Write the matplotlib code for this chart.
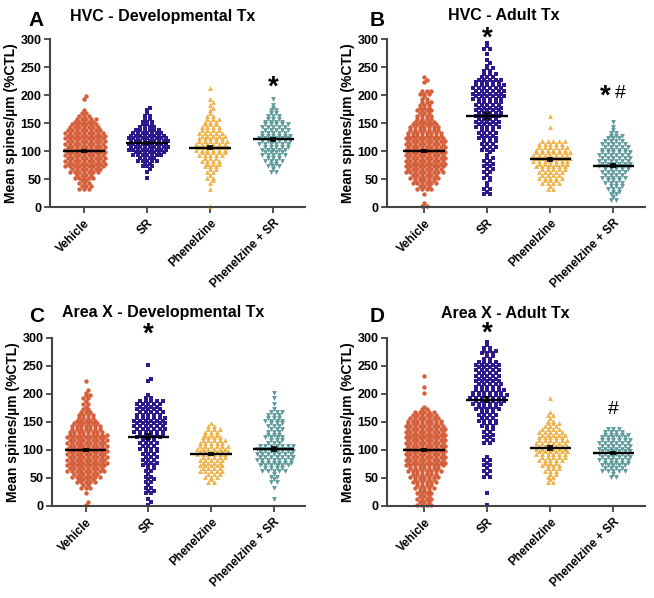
import numpy as np
import matplotlib
matplotlib.use("Agg")
import matplotlib.pyplot as plt

plt.rcParams["font.family"] = ["Liberation Sans", "DejaVu Sans"]
plt.rcParams["font.weight"] = "bold"
plt.rcParams["axes.labelweight"] = "bold"
plt.rcParams["axes.titleweight"] = "bold"

groups = ["Vehicle", "SR", "Phenelzine", "Phenelzine + SR"]
titles = ["HVC - Developmental Tx", "HVC - Adult Tx",
          "Area X - Developmental Tx", "Area X - Adult Tx"]
letters = ["A", "B", "C", "D"]


def bins(d):
    out = [0] * 30
    for k, v in d.items():
        out[k // 10] = v
    return out


counts_A = [
    bins({30: 6, 40: 5, 50: 9, 60: 14, 70: 18, 80: 18, 90: 18, 100: 18, 110: 18, 120: 18,
          130: 17, 140: 13, 150: 10, 160: 5, 170: 1, 190: 2}),
    bins({50: 1, 60: 2, 70: 5, 80: 9, 90: 14, 100: 18, 110: 18, 120: 17, 130: 13, 140: 7,
          150: 5, 160: 3, 170: 2}),
    bins({0: 1, 30: 1, 40: 2, 50: 3, 60: 4, 70: 6, 80: 7, 90: 10, 100: 12, 110: 12, 120: 10,
          130: 9, 140: 7, 150: 6, 160: 3, 170: 2, 180: 2, 190: 1, 210: 1}),
    bins({60: 3, 70: 5, 80: 7, 90: 9, 100: 10, 110: 12, 120: 12, 130: 10, 140: 10, 150: 7,
          160: 5, 170: 3, 180: 1, 190: 1}),
]
counts_B = [
    bins({0: 3, 20: 1, 30: 7, 40: 11, 50: 13, 60: 17, 70: 18, 80: 18, 90: 18, 100: 18,
          110: 18, 120: 17, 130: 15, 140: 13, 150: 9, 160: 7, 170: 7, 180: 6, 190: 3,
          200: 6, 220: 2, 230: 1}),
    bins({20: 3, 30: 3, 40: 2, 50: 3, 60: 4, 70: 4, 80: 4, 90: 2, 100: 6, 110: 6, 120: 7,
          130: 7, 140: 9, 150: 9, 160: 10, 170: 10, 180: 10, 190: 12, 200: 12, 210: 12,
          220: 10, 230: 6, 240: 4, 250: 2, 260: 1, 270: 1, 280: 3, 290: 1}),
    bins({30: 3, 40: 7, 50: 9, 60: 10, 70: 12, 80: 14, 90: 14, 100: 12, 110: 10, 140: 1,
          160: 1}),
    bins({10: 3, 20: 4, 30: 6, 40: 7, 50: 9, 60: 10, 70: 12, 80: 12, 90: 12, 100: 10,
          110: 9, 120: 6, 130: 3, 140: 1, 150: 1}),
]
counts_C = [
    bins({0: 2, 20: 1, 30: 5, 40: 9, 50: 13, 60: 17, 70: 18, 80: 18, 90: 18, 100: 18,
          110: 18, 120: 18, 130: 15, 140: 13, 150: 9, 160: 7, 170: 3, 180: 3, 190: 4,
          200: 2, 220: 1}),
    bins({0: 2, 10: 1, 20: 4, 30: 3, 40: 4, 50: 3, 60: 4, 70: 6, 80: 6, 90: 6, 100: 7,
          110: 7, 120: 10, 130: 12, 140: 12, 150: 12, 160: 10, 170: 9, 180: 10, 190: 3,
          220: 2, 250: 1}),
    bins({40: 3, 50: 6, 60: 9, 70: 9, 80: 10, 90: 12, 100: 12, 110: 10, 120: 7, 130: 6,
          140: 3}),
    bins({10: 1, 30: 1, 40: 3, 50: 3, 60: 9, 70: 12, 80: 14, 90: 14, 100: 14, 110: 6,
          120: 7, 130: 6, 140: 6, 150: 7, 160: 6, 170: 1, 180: 1, 190: 1, 200: 1}),
]
counts_D = [
    bins({0: 7, 10: 7, 20: 7, 30: 9, 40: 11, 50: 13, 60: 15, 70: 18, 80: 18, 90: 18,
          100: 18, 110: 18, 120: 18, 130: 18, 140: 17, 150: 15, 160: 11, 170: 3, 200: 1,
          210: 1, 230: 1}),
    bins({0: 1, 20: 1, 50: 3, 60: 3, 70: 3, 80: 3, 110: 4, 120: 4, 130: 4, 140: 6, 150: 7,
          160: 7, 170: 9, 180: 12, 190: 14, 200: 12, 210: 10, 220: 9, 230: 9, 240: 9,
          250: 9, 260: 4, 270: 6, 280: 3, 290: 1}),
    bins({40: 3, 50: 4, 60: 6, 70: 7, 80: 10, 90: 12, 100: 12, 110: 12, 120: 10, 130: 9,
          140: 6, 150: 3, 160: 3, 190: 1}),
    bins({50: 3, 60: 9, 70: 10, 80: 12, 90: 12, 100: 12, 110: 12, 120: 10, 130: 7}),
]

means = [[100, 114, 106, 121], [100, 163, 85, 74], [100, 124, 93, 102], [100, 190, 104, 95]]
sems = [[2, 2, 3, 3], [2, 5, 2, 2], [2, 4, 2, 3], [2, 4, 4, 2]]
# significance marks: (group index, height, text)
marks = [[(3, 214, "*")], [(1, 300, "*"), (3, 197, "*#")],
         [(1, 306, "*")], [(1, 308, "*"), (3, 172, "#")]]

colors = ["#D45F3A", "#2E1A8E", "#EFB24A", "#5E9A9C"]
markers = ["o", "s", "^", "v"]
msize = [10, 9, 12, 12]

all_counts = [counts_A, counts_B, counts_C, counts_D]

fig = plt.figure(figsize=(6.54, 5.98), dpi=100)
W, H = 654, 598
boxes = [(50, 39, 305, 207), (387, 39, 645, 207), (52, 338, 305, 506), (387, 338, 645, 506)]
title_pos = [(163, 16), (504, 16), (163, 313), (505, 313)]
letter_pos = [(36, 20), (377, 20), (37, 316), (377, 316)]
# horizontal spacing between dots (category units): dense swarms packed tighter
spacing = [[0.074, 0.074, 0.09, 0.09], [0.074, 0.09, 0.09, 0.09],
           [0.074, 0.09, 0.09, 0.09], [0.074, 0.09, 0.09, 0.09]]

for p in range(4):
    x0, y0, x1, y1 = boxes[p]
    ax = fig.add_axes([x0 / W, 1 - y1 / H, (x1 - x0) / W, (y1 - y0) / H])
    for g in range(4):
        sp = spacing[p][g]
        xs, ys = [], []
        for i, n in enumerate(all_counts[p][g]):
            if n == 0:
                continue
            c = i * 10 + 5
            a, b = (n + 1) // 2, n // 2
            # two staggered sub-rows per bin, hex packed
            for m, yy, shift in [(a, c - 2.5, 0.0),
                                 (b, c + 2.5, sp / 2 if a % 2 == b % 2 else 0.0)]:
                if m == 0:
                    continue
                off = (np.arange(m) - (m - 1) / 2) * sp + shift
                xs.extend(g + off)
                ys.extend([yy] * m)
        ax.scatter(xs, ys, s=msize[g], marker=markers[g], color=colors[g],
                   linewidths=0, zorder=2, clip_on=False)
        ax.hlines(means[p][g], g - 0.33, g + 0.33, color="black", lw=1.7, zorder=3)
        ax.errorbar(g, means[p][g], yerr=sems[p][g], color="black", lw=1.2,
                    capsize=2.5, capthick=1.2, zorder=3)
    for g, h, t in marks[p]:
        if t == "#":
            ax.text(g, h, "#", ha="center", va="center", fontsize=14, fontweight="normal")
        elif t == "*#":
            ax.text(g - 0.05, h, "*", ha="right", va="center", fontsize=20)
            ax.text(g + 0.02, h + 6, "#", ha="left", va="center", fontsize=14, fontweight="normal")
        else:
            ax.text(g, h, "*", ha="center", va="center", fontsize=20, clip_on=False)
    ax.set_ylim(0, 300)
    ax.set_xlim(-0.54 if p % 2 == 0 else -0.59, 3.5)
    ax.set_yticks(range(0, 301, 50))
    ax.set_xticks(range(4))
    ax.set_xticklabels(groups, rotation=45, ha="right", rotation_mode="anchor", fontsize=8.5)
    ax.tick_params(axis="y", labelsize=9, width=1.3, length=4, color="#444444", pad=2)
    ax.tick_params(axis="x", width=1.3, length=4, color="#444444")
    for s in ["top", "right"]:
        ax.spines[s].set_visible(False)
    for s in ["left", "bottom"]:
        ax.spines[s].set_linewidth(1.5)
        ax.spines[s].set_color("#444444")
    ax.set_ylabel("Mean spines/µm (%CTL)", fontsize=10, labelpad=2)
    tx, ty = title_pos[p]
    fig.text(tx / W, 1 - ty / H, titles[p], fontsize=11.5, ha="center", va="center")
    lx, ly = letter_pos[p]
    fig.text(lx / W, 1 - ly / H, letters[p], fontsize=15, ha="center", va="center")

fig.savefig("out.png", dpi=100)
